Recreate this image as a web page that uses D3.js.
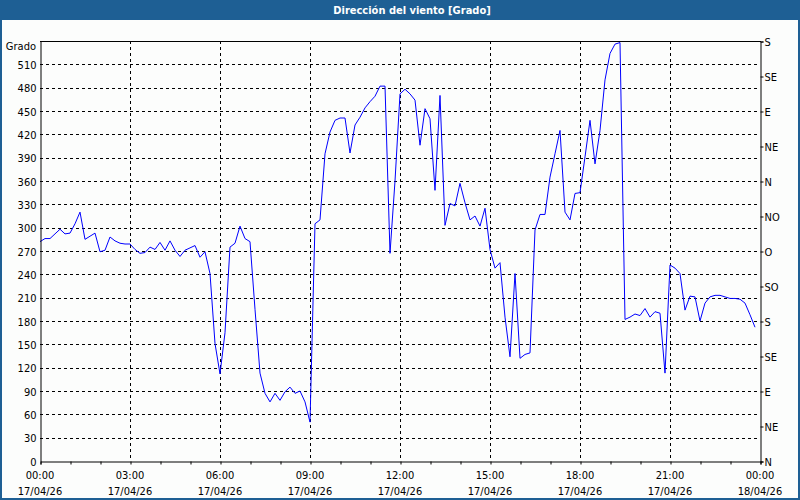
<!DOCTYPE html>
<html>
<head>
<meta charset="utf-8">
<script src="https://cdn.jsdelivr.net/npm/d3@7"></script>
<style>
  html, body { margin: 0; padding: 0; background: #fff; }
  svg { display: block; }
  text { font-family: "DejaVu Sans Condensed", "DejaVu Sans", sans-serif; font-size: 11px; fill: #000; }
</style>
</head>
<body>
<div id="chart"></div>
<script>
// data: wind direction every 10 minutes, 17/04/26 00:00 -> 23:50
const startTime = new Date(2026, 3, 17, 0, 0);
const stepMinutes = 10;
const direction = [
  282, 286, 286, 292, 298, 292, 293, 305, 320, 285,
  289, 293, 269, 271, 288, 283, 280, 279, 279, 272,
  267, 268, 275, 272, 281, 271, 283, 271, 263, 271,
  274, 277, 262, 269, 241, 151, 112, 165, 275, 280,
  302, 286, 282, 195, 113, 87, 76, 87, 78, 89,
  95, 87, 90, 76, 50, 305, 310, 395, 423, 438,
  441, 441, 396, 432, 442, 454, 462, 469, 482, 482,
  267, 360, 472, 478, 472, 464, 406, 453, 440, 348,
  470, 303, 331, 328, 357, 332, 310, 315, 302, 325,
  272, 248, 255, 185, 134, 241, 132, 137, 139, 297,
  317, 317, 365, 395, 425, 320, 310, 344, 345, 391,
  438, 382, 425, 490, 524, 536, 538, 182, 185, 189,
  187, 196, 185, 192, 190, 113, 252, 248, 241, 194,
  212, 211, 180, 203, 211, 213, 213, 211, 209, 209,
  208, 203, 188, 172
];
const leftTicks = d3.range(0, 511, 30);
const compassDegrees = [0, 45, 90, 135, 180, 225, 270, 315, 360, 405, 450, 495, 540];
const compassLabels = ["N", "NE", "E", "SE", "S", "SO", "O", "NO", "N", "NE", "E", "SE", "S"];
const titleText = "Dirección del viento [Grado]";
const unitText = "Grado";

// dimensions
const w = 800;
const h = 500;
const padLeft = 40;
const padRight = 40;
const padTop = 41;
const padBot = 39;
const frameColor = "#1e5f94";

const series = direction.map((v, i) => ({
  t: new Date(startTime.getTime() + i * stepMinutes * 60000),
  v: v
}));
const endTime = new Date(2026, 3, 18, 0, 0);

const svg = d3.select("#chart")
  .append("svg")
  .attr("width", w)
  .attr("height", h);

// frame + title bar
svg.append("rect")
  .attr("x", 0).attr("y", 0).attr("width", w).attr("height", h)
  .attr("fill", frameColor);
svg.append("rect")
  .attr("x", 2).attr("y", 20).attr("width", w - 4).attr("height", h - 22)
  .attr("fill", "#fcfdfc");
svg.append("text")
  .attr("x", 412).attr("y", 14)
  .attr("text-anchor", "middle")
  .style("font-weight", "bold")
  .style("fill", "#fff")
  .text(titleText);

// scales
const xScale = d3.scaleTime()
  .domain([startTime, endTime])
  .range([padLeft, w - padRight]);
const yScale = d3.scaleLinear()
  .domain([0, 540])
  .range([h - padBot, padTop]);

// grid
const grid = svg.append("g")
  .attr("stroke", "#000")
  .attr("stroke-dasharray", "3,3")
  .attr("shape-rendering", "crispEdges");
grid.selectAll(".hgrid")
  .data(leftTicks.filter(d => d > 0))
  .enter().append("line")
  .attr("x1", padLeft).attr("x2", w - padRight)
  .attr("y1", d => Math.round(yScale(d)) + 0.5)
  .attr("y2", d => Math.round(yScale(d)) + 0.5);
grid.selectAll(".vgrid")
  .data(xScale.ticks(d3.timeHour.every(3)).filter(d => d > startTime && d < endTime))
  .enter().append("line")
  .attr("y1", padTop).attr("y2", h - padBot)
  .attr("x1", d => Math.round(xScale(d)) + 0.5)
  .attr("x2", d => Math.round(xScale(d)) + 0.5);

// line
const line = d3.line()
  .x(d => xScale(d.t))
  .y(d => yScale(d.v));
svg.append("path")
  .datum(series)
  .attr("fill", "none")
  .attr("stroke", "#0000ff")
  .attr("stroke-width", 1)
  .attr("d", line);

// left axis
const yAxis = d3.axisLeft(yScale)
  .tickValues(leftTicks)
  .tickSize(0)
  .tickPadding(4);
const gy = svg.append("g")
  .attr("transform", `translate(${padLeft + 0.5}, 0.5)`)
  .call(yAxis);
gy.select(".domain").attr("stroke", "#000");
gy.selectAll("text").style("font-size", "11px").style("font-family", null);

svg.append("text")
  .attr("x", padLeft - 4).attr("y", 50)
  .attr("text-anchor", "end")
  .text(unitText);

// right axis
const yAxisRight = d3.axisRight(yScale)
  .tickValues(compassDegrees)
  .tickFormat((d, i) => compassLabels[i])
  .tickSize(3)
  .tickPadding(1);
const gr = svg.append("g")
  .attr("transform", `translate(${w - padRight + 0.5}, 0.5)`)
  .call(yAxisRight);
gr.select(".domain").attr("stroke", "#000");
gr.selectAll("text").style("font-size", "11px").style("font-family", null);

// top border
svg.append("line")
  .attr("x1", padLeft).attr("x2", w - padRight + 1)
  .attr("y1", padTop + 0.5).attr("y2", padTop + 0.5)
  .attr("stroke", "#000");

// bottom axis
const xAxis = d3.axisBottom(xScale)
  .ticks(d3.timeHour.every(1))
  .tickSize(3)
  .tickFormat("");
const gx = svg.append("g")
  .attr("transform", `translate(0.5, ${h - padBot + 0.5})`)
  .call(xAxis);
gx.select(".domain").attr("stroke", "#000");

const fmtTime = d3.timeFormat("%H:%M");
const fmtDate = d3.timeFormat("%d/%m/%y");
const labelTicks = xScale.ticks(d3.timeHour.every(3));
const xl = svg.append("g");
xl.selectAll(".tl")
  .data(labelTicks)
  .enter().append("text")
  .attr("x", d => xScale(d))
  .attr("y", 479)
  .attr("text-anchor", "middle")
  .text(d => fmtTime(d));
xl.selectAll(".dl")
  .data(labelTicks)
  .enter().append("text")
  .attr("x", d => xScale(d))
  .attr("y", 495)
  .attr("text-anchor", "middle")
  .text(d => fmtDate(d));
</script>
</body>
</html>
